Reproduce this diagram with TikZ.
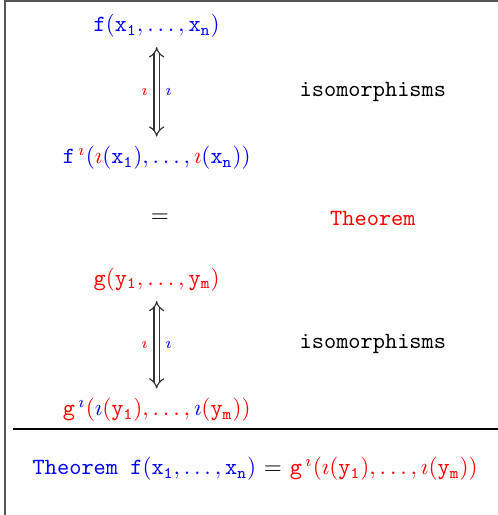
\documentclass[tikz,border=0pt]{standalone}
\usepackage{xcolor}
\usepackage{amsmath}
\usepackage{tikz}
\usetikzlibrary{arrows.meta, positioning, calc}
\definecolor{myblue}{RGB}{0,0,255}
\definecolor{myred}{RGB}{255,0,0}
\definecolor{myframe}{RGB}{85,85,85}
\newcommand{\tx}[1]{\mathtt{#1}}
\newcommand{\ri}{\textcolor{myred}{\imath}}
\newcommand{\bi}{\textcolor{myblue}{\imath}}
\tikzset{
  formula/.style={inner sep=3pt, font=\normalsize},
  word/.style={font=\ttfamily, inner sep=2pt},
  isoarrow/.style={{Implies[length=5.5pt, width=10pt]}-{Implies[length=5.5pt, width=10pt]},
    double, double distance=1.8pt,
    line width=0.5pt, color=black!80, shorten <=1pt, shorten >=1pt},
  lbl/.style={font=\scriptsize, inner sep=3.5pt},
  frame/.style={line width=0.9pt, color=myframe},
  rule/.style={line width=0.5pt, color=black}
}

\begin{document}
\begin{tikzpicture}
  \clip (0,0) rectangle (7.53,-7.79);

  % Frame
  \draw[frame] (0.076,-9) -- (0.076,-0.015) -- (9,-0.015);

  % Upper formulas
  \node[formula, text=myblue] (f) at (2.37,-0.39) {$\tx{f}(\tx{x_1},\ldots,\tx{x_n})$};
  \node[formula, text=myblue] (fi) at (2.37,-2.39)
    {$\tx{f}^{\,\ri}(\ri(\tx{x_1}),\ldots,\ri(\tx{x_n}))$};
  \node[formula] (eq) at (2.42,-3.30) {$=$};
  \node[formula, text=myred] (g) at (2.37,-4.23) {$\tx{g}(\tx{y_1},\ldots,\tx{y_m})$};
  \node[formula, text=myred] (gi) at (2.37,-6.20)
    {$\tx{g}^{\,\bi}(\bi(\tx{y_1}),\ldots,\bi(\tx{y_m}))$};

  % Right column
  \node[word] (iso1) at (5.64,-1.39) {isomorphisms};
  \node[word, text=myred] (thm) at (5.64,-3.30) {Theorem};
  \node[word] (iso2) at (5.64,-5.20) {isomorphisms};

  % Arrows
  \draw[isoarrow] (f) -- (fi)
    node[midway, left, lbl, text=myred] {$\imath$}
    node[midway, right, lbl, text=myblue] {$\imath$};
  \draw[isoarrow] (g) -- (gi)
    node[midway, left, lbl, text=myred] {$\imath$}
    node[midway, right, lbl, text=myblue] {$\imath$};

  % Rule and result
  \coordinate (ruleL) at (0.197,-6.49);
  \coordinate (ruleR) at (7.6,-6.49);
  \draw[rule] (ruleL) -- (ruleR);
  \node[formula] (res) at (3.86,-7.09)
    {\textcolor{myblue}{\texttt{Theorem~}$\tx{f}(\tx{x_1},\ldots,\tx{x_n})$}
     $=$ \textcolor{myred}{$\tx{g}^{\,\imath}(\imath(\tx{y_1}),\ldots,\imath(\tx{y_m}))$}};
\end{tikzpicture}
\end{document}
